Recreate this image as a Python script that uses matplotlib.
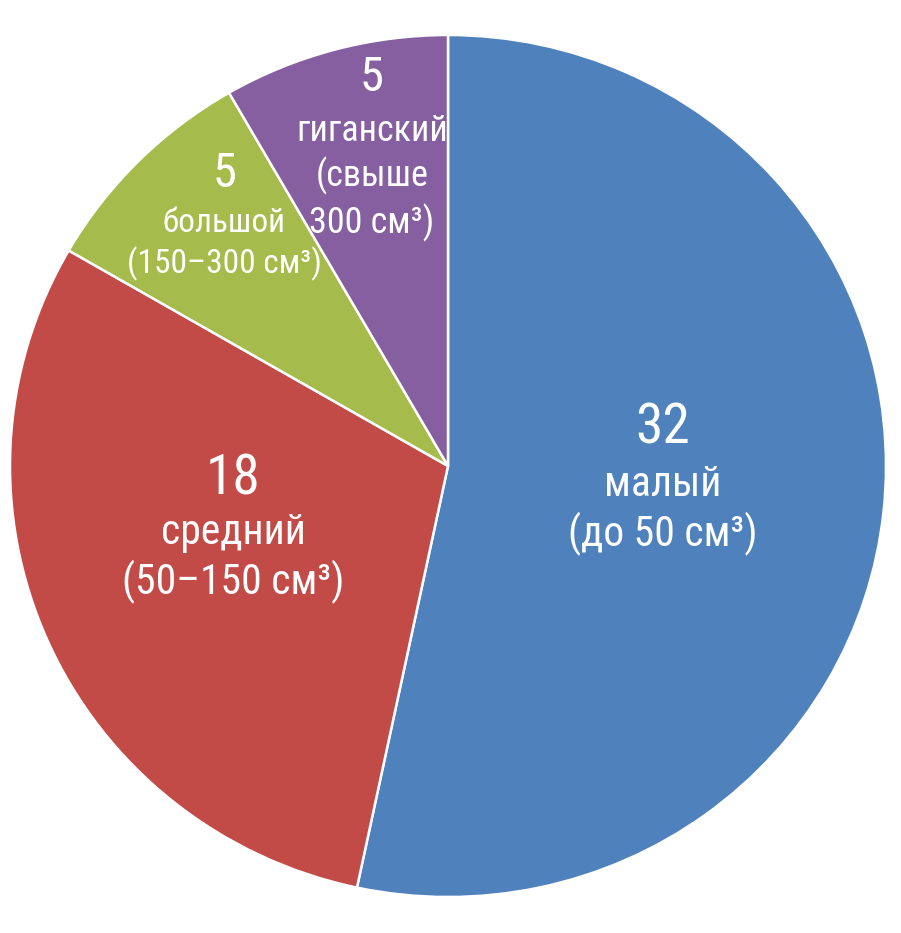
import matplotlib.pyplot as plt

# размеры (см3) и число случаев
values = [32, 18, 5, 5]
names = ["малый\n(до 50 см³)", "средний\n(50–150 см³)",
         "большой\n(150–300 см³)", "гиганский\n(свыше\n300 см³)"]
colors = ["#4F81BD", "#C24A47", "#A5BB4B", "#855F9F"]

# где стоят подписи (в координатах круга)
num_xy = [(0.491, 0.088), (-0.491, -0.030), (-0.511, 0.677), (-0.174, 0.900)]
name_xy = [(0.491, -0.102), (-0.491, -0.214), (-0.511, 0.515), (-0.174, 0.670)]
num_size = [40, 40, 35, 35]
name_size = [30, 30, 24, 26]
name_gap = [1.2, 1.2, 1.3, 1.28]

fig = plt.figure(figsize=(9.01, 9.33), dpi=100)
ax = fig.add_axes([10 / 901, 36 / 933, 876 / 901, 862 / 933])

wedges, _ = ax.pie(values, colors=colors, startangle=90, counterclock=False,
                   radius=1, frame=False,
                   wedgeprops=dict(edgecolor="white", linewidth=1.8))
ax.set_xlim(-1, 1)
ax.set_ylim(-1, 1)
ax.set_aspect("auto")

font = ["Roboto Condensed", "DejaVu Sans"]
for i, v in enumerate(values):
    ax.text(*num_xy[i], str(v), ha="center", va="center", color="white",
            fontsize=num_size[i], family=font)
    ax.text(*name_xy[i], names[i], ha="center", va="center", color="white",
            fontsize=name_size[i], linespacing=name_gap[i], family=font)

fig.savefig("out.png", dpi=100, facecolor="white")
